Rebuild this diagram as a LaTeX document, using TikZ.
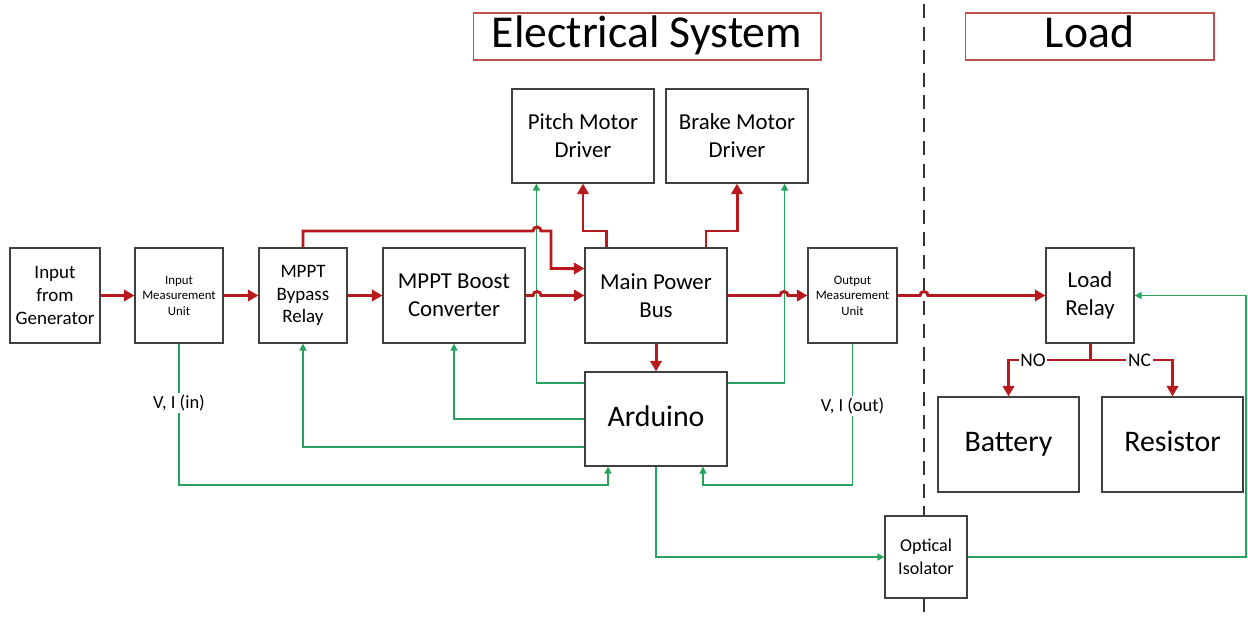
\documentclass[tikz,border=0pt]{standalone}
\usepackage{fontspec}
\setmainfont{Carlito}
\usetikzlibrary{arrows.meta, positioning, calc}
\definecolor{power}{HTML}{B7191C}
\definecolor{signal}{HTML}{27A35E}
\definecolor{boxline}{HTML}{404040}
\definecolor{titleline}{HTML}{C0504D}

\begin{document}
\begin{tikzpicture}[
    x=0.02cm, y=0.02cm,
    block/.style={
        draw=boxline,
        line width=.7pt,
        fill=white,
        align=center,
        inner sep=1pt,
        minimum height=1.9cm
    },
    oneline/.style={
        text height=12pt,
        text depth=3.7pt
    },
    titlebox/.style={
        draw=titleline,
        line width=.6pt,
        fill=white,
        inner ysep=0pt,
        minimum height=0.94cm,
        text height=18.5pt,
        text depth=5.6pt,
        font=\fontsize{26}{30}\selectfont
    },
    pwr/.style={
        -{Triangle[length=6pt,width=6.5pt]},
        line width=1.7pt,
        draw=power
    },
    pwrbus/.style={
        line width=1.7pt,
        draw=power
    },
    sig/.style={
        -{Triangle[length=4pt,width=4pt]},
        line width=.85pt,
        draw=signal
    },
    siglbl/.style={
        fill=white,
        inner sep=1pt,
        font=\fontsize{10.5}{12}\selectfont
    },
    nolbl/.style={
        fill=white,
        inner sep=1pt,
        font=\fontsize{11}{13}\selectfont
    },
    divider/.style={
        line width=.7pt,
        draw=black!80,
        dash pattern=on 8pt off 5pt
    }
]

\fill[white] (0,0) rectangle (1248,-619);
\useasboundingbox (0,0) rectangle (1248,-619);

% ------------------------------------------------
% Divider between system and load
% ------------------------------------------------
\coordinate (divtop) at (924,-4);
\coordinate (divbot) at (924,-619);
\draw[divider] (divtop) -- (divbot);

% ------------------------------------------------
% Titles
% ------------------------------------------------
\node[titlebox, minimum width=6.96cm] (eltitle) at (647,-36.5) {Electrical System};
\node[titlebox, minimum width=4.98cm] (ldtitle) at (1089.5,-36.5) {Load};

% ------------------------------------------------
% Blocks
% ------------------------------------------------
\node[block, minimum width=1.8cm, font=\fontsize{10.8}{13}\selectfont]  (gen)    at (55,-295.5)  {Input\\from\\Generator};
\node[block, minimum width=1.76cm, font=\fontsize{7.3}{8.8}\selectfont] (inmeas) at (179,-295.5) {Input\\Measurement\\Unit};
\node[block, minimum width=1.76cm, font=\fontsize{10.8}{13}\selectfont] (bypass) at (303,-295.5) {MPPT\\Bypass\\Relay};
\node[block, minimum width=2.84cm, font=\fontsize{13}{16}\selectfont]   (boost)  at (454,-295.5) {MPPT Boost\\Converter};
\node[block, minimum width=2.84cm, font=\fontsize{13}{16}\selectfont]   (bus)    at (656,-295.5) {Main Power\\Bus};
\node[block, minimum width=2.84cm, minimum height=1.88cm, font=\fontsize{13}{16}\selectfont] (pitch) at (583,-136) {Pitch Motor\\Driver};
\node[block, minimum width=2.84cm, minimum height=1.88cm, font=\fontsize{13}{16}\selectfont] (brake) at (737,-136) {Brake Motor\\Driver};
\node[block, minimum width=1.78cm, font=\fontsize{7.3}{8.8}\selectfont] (outmeas) at (852.5,-295.5) {Output\\Measurement\\Unit};
\node[block, minimum width=1.76cm, font=\fontsize{13}{16}\selectfont]   (relay)  at (1090,-295.5) {Load\\Relay};
\node[block, oneline, minimum width=2.84cm, minimum height=1.88cm, font=\fontsize{17}{20}\selectfont] (arduino) at (656,-419) {Arduino};
\node[block, oneline, minimum width=2.82cm, font=\fontsize{17}{20}\selectfont]   (battery)  at (1008.5,-444.5) {Battery};
\node[block, oneline, minimum width=2.82cm, font=\fontsize{17}{20}\selectfont]   (resistor) at (1172.5,-444.5) {Resistor};
\node[block, minimum width=1.64cm, minimum height=1.64cm, font=\fontsize{10.3}{13}\selectfont] (opto) at (926,-557) {Optical\\Isolator};

% ------------------------------------------------
% Routing rails
% ------------------------------------------------
\coordinate (busrail) at (0,-231);
\coordinate (sigrail) at (0,-485);
\coordinate (relrail) at (0,-360);
\coordinate (edge)    at (1246,0);

% ------------------------------------------------
% Signal lines
% ------------------------------------------------
\draw[sig] (inmeas.south) -- node[siglbl, pos=0.42] (vin) {V, I (in)} (inmeas.south |- sigrail)
           -| ([xshift=-0.96cm]arduino.south);
\draw[sig] (outmeas.south) -- node[siglbl, pos=0.44] (vout) {V, I (out)} (outmeas.south |- sigrail)
           -| ([xshift=0.94cm]arduino.south);
\draw[sig] ([yshift=-0.56cm]arduino.west) -| (bypass.south);
\draw[sig] (arduino.west) -| (boost.south);
\draw[sig] ([yshift=0.72cm]arduino.west) -| ([xshift=0.5cm]pitch.south west);
\draw[sig] ([yshift=0.72cm]arduino.east) -| ([xshift=-0.48cm]brake.south east);
\draw[sig] (arduino.south) |- (opto.west);
\draw[sig] (opto.east) -| (edge |- relay.east) -- (relay.east);

% ------------------------------------------------
% Power lines
% ------------------------------------------------
\draw[pwr] (gen.east) -- (inmeas.west);
\draw[pwr] (inmeas.east) -- (bypass.west);
\draw[pwr] (bypass.east) -- (boost.west);
\draw[pwr] (boost.east) -- (533,-295.5) arc[start angle=180, end angle=0, radius=4] -- (bus.west);
\draw[pwr] (bypass.north) |- (533,-231) arc[start angle=180, end angle=0, radius=4]
           -| (551,-268.5) -- ([yshift=0.54cm]bus.west);
\draw[pwr] ([xshift=-1cm]bus.north) |- (pitch.south |- busrail) -- (pitch.south);
\draw[pwr] ([xshift=1cm]bus.north) |- (brake.south |- busrail) -- (brake.south);
\draw[pwr] (bus.south) -- (arduino.north);
\draw[pwr] (bus.east) -- (780,-295.5) arc[start angle=180, end angle=0, radius=4] -- (outmeas.west);
\draw[pwr] (outmeas.east) -- (920,-295.5) arc[start angle=180, end angle=0, radius=4] -- (relay.west);

% ------------------------------------------------
% Relay outputs
% ------------------------------------------------
\draw[pwrbus] (relay.south) -- (relay.south |- relrail);
\draw[pwr] (relay.south |- relrail) -| node[nolbl, pos=0.35] (no) {NO} (battery.north);
\draw[pwr] (relay.south |- relrail) -| node[nolbl, pos=0.3] (nc) {NC} (resistor.north);

\end{tikzpicture}
\end{document}
